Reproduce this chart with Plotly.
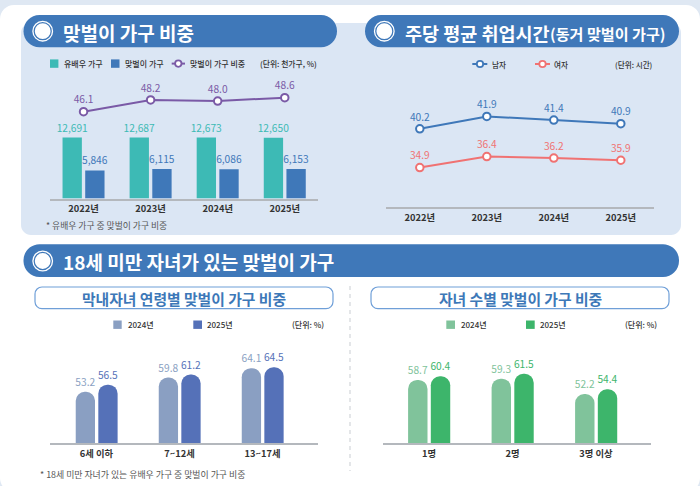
import plotly.graph_objects as go

# ---- data ----
years = ["2022년", "2023년", "2024년", "2025년"]
married_households = [12691, 12687, 12673, 12650]
dual_households = [5846, 6115, 6086, 6153]
dual_share = [46.1, 48.2, 48.0, 48.6]

hours_men = [40.2, 41.9, 41.4, 40.9]
hours_women = [34.9, 36.4, 36.2, 35.9]

age_groups = ["6세 이하", "7~12세", "13~17세"]
age_2024 = [53.2, 59.8, 64.1]
age_2025 = [56.5, 61.2, 64.5]

child_counts = ["1명", "2명", "3명 이상"]
count_2024 = [58.7, 59.3, 52.2]
count_2025 = [60.4, 61.5, 54.4]

# ---- page constants ----
W, H = 700, 486
KR = "Noto Sans CJK KR"
NUM = "Noto Sans CJK KR"
PILL = "#3f78b9"
PANEL = "#dbe6f4"
TEAL = "#3dbab5"
BLUE = "#3f78b9"
PURPLE = "#7a5aa6"
RED = "#f07272"
AGE_A, AGE_B = "#8a9fc2", "#5571b8"
CNT_A, CNT_B = "#80c39b", "#3db56b"
AXIS = "#b4b8bd"
INK = "#333333"


def px(x):
    return x / W


def py(y):
    return 1 - y / H


def round_rect(x0, y0, x1, y1, r, fill, line=None, lw=0):
    """Rounded rectangle in page pixels, as a paper-referenced path."""
    k = 0.4477  # control-point offset approximating a circular arc
    p = lambda a, b: f"{px(a):.5f},{py(b):.5f}"
    d = (
        f"M{p(x0 + r, y0)} L{p(x1 - r, y0)} "
        f"C{p(x1 - r * k, y0)} {p(x1, y0 + r * k)} {p(x1, y0 + r)} "
        f"L{p(x1, y1 - r)} "
        f"C{p(x1, y1 - r * k)} {p(x1 - r * k, y1)} {p(x1 - r, y1)} "
        f"L{p(x0 + r, y1)} "
        f"C{p(x0 + r * k, y1)} {p(x0, y1 - r * k)} {p(x0, y1 - r)} "
        f"L{p(x0, y0 + r)} "
        f"C{p(x0, y0 + r * k)} {p(x0 + r * k, y0)} {p(x0 + r, y0)} Z"
    )
    return dict(type="path", xref="paper", yref="paper", path=d, fillcolor=fill,
                line=dict(color=line or "rgba(0,0,0,0)", width=lw), layer="below")


def box(x0, y0, x1, y1, fill):
    return dict(type="rect", xref="paper", yref="paper", x0=px(x0), x1=px(x1),
                y0=py(y1), y1=py(y0), fillcolor=fill, line=dict(width=0), layer="below")


def circle(cx, cy, r, fill, line=None, lw=0):
    return dict(type="circle", xref="paper", yref="paper", x0=px(cx - r), x1=px(cx + r),
                y0=py(cy + r), y1=py(cy - r), fillcolor=fill,
                line=dict(color=line or "rgba(0,0,0,0)", width=lw), layer="above")


def seg(x0, x1, y, color, lw=2):
    return dict(type="line", xref="paper", yref="paper", x0=px(x0), x1=px(x1),
                y0=py(y), y1=py(y), line=dict(color=color, width=lw), layer="below")


def label(x, y, text, size, color=INK, weight=400, anchor="left", family=KR):
    return dict(xref="paper", yref="paper", x=px(x), y=py(y), text=text, showarrow=False,
                xanchor=anchor, yanchor="middle", borderpad=0,
                font=dict(family=family, size=size, color=color, weight=weight))


def bullet(cx, cy):
    return [circle(cx, cy, 9.8, PILL, "white", 1.3), circle(cx, cy, 7.9, "white")]


shapes = [
    box(0, 0, W, H, "#dfe8f3"),
    round_rect(0, 5, W, 492, 14, "white"),
    round_rect(21, 23, 681, 235, 10, PANEL),
    round_rect(23.5, 15, 337, 47.3, 16, PILL),
    round_rect(365, 15, 679, 47.3, 16, PILL),
    round_rect(23.5, 244.3, 679, 277, 16, PILL),
    round_rect(35, 287, 333, 308.7, 7, "white", "#6f9fd8", 1.2),
    round_rect(371, 287, 669, 308.7, 7, "white", "#6f9fd8", 1.2),
    dict(type="line", xref="paper", yref="paper", x0=px(350), x1=px(350), y0=py(286), y1=py(471),
         line=dict(color="#d3d6da", width=1.2, dash="4px,4px"), layer="below"),
]
shapes += bullet(42.7, 31.2) + bullet(384.3, 31.2) + bullet(42.7, 261)

# legend keys
shapes += [box(50, 59.4, 58.4, 67.8, TEAL), box(111, 59.4, 119.5, 67.8, BLUE)]
shapes += [seg(171.7, 185, 63.6, PURPLE), circle(178.3, 63.6, 3.2, "white", PURPLE, 1.8)]
shapes += [seg(472.3, 487.3, 64, BLUE), circle(480, 64, 3.2, "white", BLUE, 1.8)]
shapes += [seg(535, 550, 64, RED), circle(542.5, 64, 3.2, "white", RED, 1.8)]
shapes += [box(113.3, 320.5, 121.7, 328.9, AGE_A), box(193.3, 320.5, 202, 328.9, AGE_B)]
shapes += [box(446.3, 320.5, 455, 328.9, CNT_A), box(526, 320.5, 534.7, 328.9, CNT_B)]

annotations = [
    label(62, 33, "맞벌이 가구 비중", 19, "white", 700),
    label(404, 33, "주당 평균 취업시간", 18.5, "white", 700),
    label(549, 33, "(동거 맞벌이 가구)", 15.1, "white", 700),
    label(62, 261, "18세 미만 자녀가 있는 맞벌이 가구", 19, "white", 700),
    label(184, 298, "막내자녀 연령별 맞벌이 가구 비중", 14.8, "#3d78b8", 700, "center"),
    label(520, 298, "자녀 수별 맞벌이 가구 비중", 14.8, "#3d78b8", 700, "center"),
    label(63.3, 63.6, "유배우 가구", 8, INK, 500),
    label(124, 63.6, "맞벌이 가구", 8, INK, 500),
    label(189.3, 63.6, "맞벌이 가구 비중", 8, INK, 500),
    label(318.3, 63.6, "(단위: 천가구, %)", 7.8, INK, 500, "right"),
    label(491.3, 64, "남자", 7.6, INK, 500),
    label(553.3, 64, "여자", 7.6, INK, 500),
    label(654, 64, "(단위: 시간)", 7.6, INK, 500, "right"),
    label(127.3, 324.7, "2024년", 8, INK, 500),
    label(206.3, 324.7, "2025년", 8, INK, 500),
    label(325, 324.7, "(단위: %)", 8, INK, 500, "right"),
    label(460.3, 324.7, "2024년", 8, INK, 500),
    label(539.3, 324.7, "2025년", 8, INK, 500),
    label(658, 324.7, "(단위: %)", 8, INK, 500, "right"),
    label(45, 225, "* 유배우 가구 중 맞벌이 가구 비중", 8.8, "#555555"),
    label(39.3, 474.7, "* 18세 미만 자녀가 있는 유배우 가구 중 맞벌이 가구 비중", 8.9, "#555555"),
]


def bar(x, y, color, xa, ya, width, offset, fmt, round_top=False):
    return go.Bar(
        x=x, y=y, xaxis=xa, yaxis=ya, width=width, offset=offset,
        marker=dict(color=color, line=dict(width=0), cornerradius="50%" if round_top else 0),
        text=y, texttemplate=fmt, textposition="outside", cliponaxis=False,
        constraintext="none", textangle=0,
        textfont=dict(family=NUM, size=10.2, color=color), showlegend=False, hoverinfo="skip",
    )


def line(x, y, color, xa, ya):
    return go.Scatter(
        x=x, y=y, xaxis=xa, yaxis=ya, mode="lines+markers+text",
        line=dict(color=color, width=2),
        marker=dict(size=7.5, color="white", line=dict(color=color, width=2)),
        text=[f"{v:.1f}" for v in y], textposition="top center", cliponaxis=False,
        textfont=dict(family=NUM, size=10.2, color=color), showlegend=False, hoverinfo="skip",
    )


fig = go.Figure()
fig.add_trace(bar(years, married_households, TEAL, "x", "y", 0.288, -0.313, "%{y:,}"))
fig.add_trace(bar(years, dual_households, BLUE, "x", "y", 0.288, 0.025, "%{y:,}"))
fig.add_trace(line(years, dual_share, PURPLE, "x", "y2"))
fig.add_trace(line(years, hours_men, BLUE, "x2", "y3"))
fig.add_trace(line(years, hours_women, RED, "x2", "y3"))
fig.add_trace(bar(age_groups, age_2024, AGE_A, "x3", "y4", 0.2325, -0.25, "%{y:.1f}", True))
fig.add_trace(bar(age_groups, age_2025, AGE_B, "x3", "y4", 0.2325, 0.022, "%{y:.1f}", True))
fig.add_trace(bar(child_counts, count_2024, CNT_A, "x4", "y5", 0.2325, -0.25, "%{y:.1f}", True))
fig.add_trace(bar(child_counts, count_2025, CNT_B, "x4", "y5", 0.2325, 0.022, "%{y:.1f}", True))


def xaxis(x0, x1, rng, anchor):
    return dict(
        domain=[px(x0), px(x1)], range=rng, type="category", anchor=anchor, fixedrange=True,
        showgrid=False, zeroline=False, showline=True, linecolor=AXIS, linewidth=1.5,
        ticks="outside", ticklen=1, tickcolor="rgba(0,0,0,0)",
        tickfont=dict(family=KR, size=9.3, color=INK, weight=700),
    )


def yaxis(y_bottom, y_top, rng, **extra):
    return dict(domain=[py(y_bottom), py(y_top)], range=rng, visible=False,
                fixedrange=True, showgrid=False, zeroline=False, **extra)


fig.update_layout(
    width=W, height=H, autosize=False, margin=dict(l=0, r=0, t=0, b=0),
    paper_bgcolor="white", plot_bgcolor="rgba(0,0,0,0)", barmode="overlay",
    font=dict(family=KR), shapes=shapes, annotations=annotations, showlegend=False,
    xaxis=xaxis(50, 318.3, [-0.5, 3.5], "y"),
    yaxis=yaxis(198.5, 75, [0, 25695]),
    yaxis2=yaxis(198.5, 75, [30.6, 52.65], overlaying="y", anchor="x"),
    xaxis2=xaxis(386.3, 654.3, [-0.5, 3.5], "y3"),
    yaxis3=yaxis(207, 75, [29.5, 47.57], anchor="x2"),
    xaxis3=xaxis(50, 318.3, [-0.56, 2.672], "y4"),
    yaxis4=yaxis(443.3, 340, [29.5, 77.1], anchor="x3"),
    xaxis4=xaxis(383.3, 651, [-0.547, 2.659], "y5"),
    yaxis5=yaxis(443.3, 340, [29.5, 77.1], anchor="x4"),
)

fig.write_html("out.html", config=dict(displayModeBar=False))
